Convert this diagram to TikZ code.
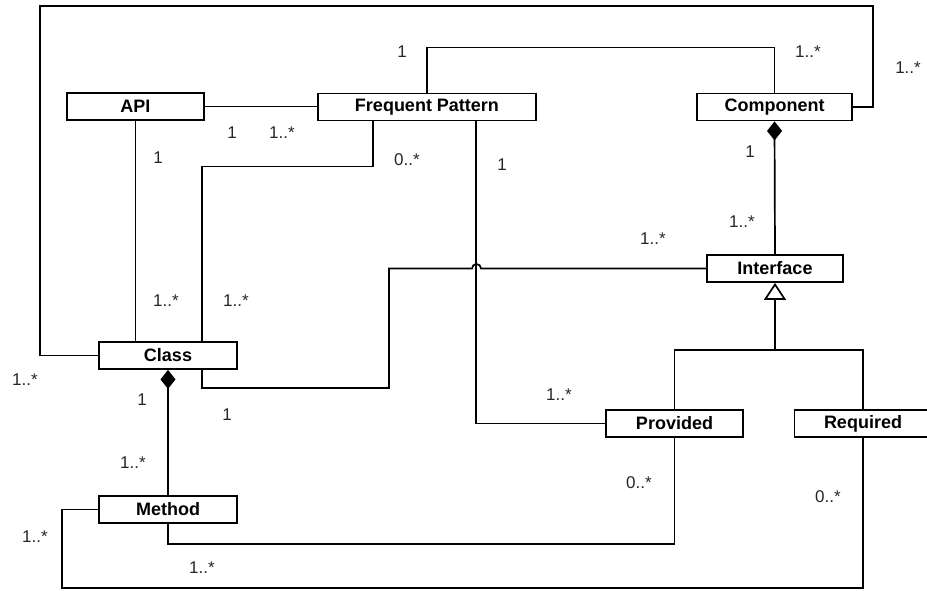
\documentclass[tikz,border=0pt]{standalone}
\usepackage{fontspec}
\setmainfont{Liberation Sans}
\usetikzlibrary{arrows.meta}

\begin{document}
\begin{tikzpicture}[
  x=1pt, y=-1pt,
  cls/.style={draw, line width=1.8pt, minimum width=137pt, minimum height=27pt,
              inner sep=0pt, font=\fontsize{18}{18}\selectfont\bfseries},
  mult/.style={inner sep=0pt, text=black!85, font=\fontsize{17}{17}\selectfont},
  assoc/.style={line width=1.7pt},
  compo/.style={assoc, {Diamond[length=19pt, width=15pt]}-},
  gen/.style={assoc, -{Triangle[open, length=17pt, width=22pt, fill=white]}}
]
\useasboundingbox (0,0) rectangle (927,590);
\node[cls] (api) at (135.5,106.5) {API};
\node[cls, minimum width=218pt] (freq) at (427,107) {Frequent Pattern};
\node[cls, minimum width=155pt] (component) at (774.5,107) {Component};
\node[cls, minimum width=136pt] (iface) at (775,268.5) {Interface};
\node[cls, minimum width=138pt] (class) at (168,355.5) {Class};
\node[cls] (prov) at (674.5,423.5) {Provided};
\node[cls, minimum width=145pt] (req) at (867,423.5) {\hspace*{-8pt}Required};
\node[cls, minimum width=138pt] (method) at (168,509.5) {Method};
\coordinate (split) at (775,350);
% associations
\draw[assoc] (api.east) -- (freq.west |- api.east);
\draw[assoc] (api.south) -- (api.south |- class.north);
\draw[assoc] ([xshift=-54pt]freq.south) -- ++(0,45) -| ([xshift=34pt]class.north);
\draw[assoc] ([xshift=49pt]freq.south) |- (prov.west);
\draw[assoc] (freq.north) -- ++(0,-45) -| (component.north);
\draw[assoc] (class.west) -| (40,6) -| ([xshift=20pt]component.east) -- (component.east);
\draw[assoc] (iface.west) -- (481,268.5) arc[start angle=0, end angle=180, radius=4.5pt]
  -- (389,268.5) -- (389,388) -| ([xshift=34pt]class.south);
\draw[assoc] (method.south) -- ++(0,20) -| (prov.south);
\draw[assoc] (method.west) -- ++(-36,0) -- ++(0,78.5) -| ([xshift=-4pt]req.south);
% composition / generalization
\draw[compo] (component.south) -- (iface.north);
\draw[compo] (class.south) -- (method.north);
\draw[assoc] (prov.north) |- (split) -| ([xshift=-4pt]req.north);
\draw[gen] (split) -- (iface.south);
% multiplicities
\node[mult] (m1) at (402,52) {1};
\node[mult] (m2) at (808,52) {1..*};
\node[mult] (m3) at (908,68) {1..*};
\node[mult] (m4) at (232,133) {1};
\node[mult] (m5) at (282,133) {1..*};
\node[mult] (m6) at (158,158) {1};
\node[mult] (m7) at (407,160) {0..*};
\node[mult] (m8) at (502,165) {1};
\node[mult] (m9) at (750,152) {1};
\node[mult] (m10) at (742,222) {1..*};
\node[mult] (m11) at (653,239) {1..*};
\node[mult] (m12) at (166,301) {1..*};
\node[mult] (m13) at (236,301) {1..*};
\node[mult] (m14) at (25,380) {1..*};
\node[mult] (m15) at (142,400) {1};
\node[mult] (m16) at (227,415) {1};
\node[mult] (m17) at (559,395) {1..*};
\node[mult] (m18) at (133,463) {1..*};
\node[mult] (m19) at (639,483) {0..*};
\node[mult] (m20) at (828,497) {0..*};
\node[mult] (m21) at (35,537) {1..*};
\node[mult] (m22) at (202,568) {1..*};
\end{tikzpicture}
\end{document}
